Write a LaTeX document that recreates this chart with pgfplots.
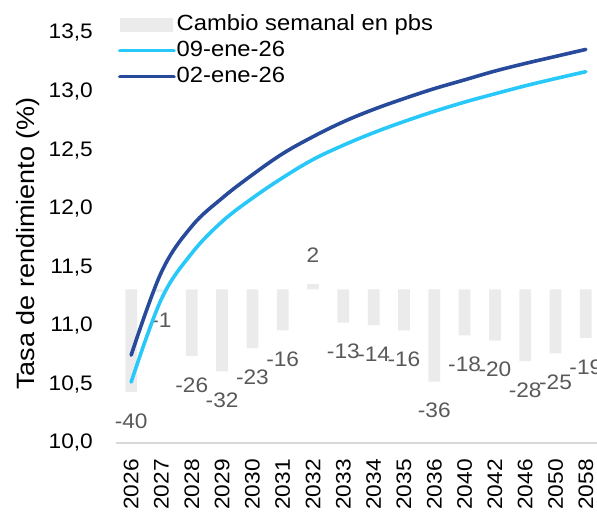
\documentclass[border=0pt]{standalone}
\usepackage{fontspec}
\setmainfont{Liberation Sans}[FakeStretch=1.08]
\usepackage{pgfplots}
\usepackage{pgfplotstable}
\pgfplotsset{compat=1.18}

\definecolor{barfill}{RGB}{235,235,235}
\definecolor{lightline}{RGB}{41,200,250}
\definecolor{darkline}{RGB}{40,74,154}
\definecolor{labelgray}{RGB}{89,89,89}
\definecolor{axisgray}{RGB}{217,217,217}

\newcommand\cf{\fontsize{21}{25}\selectfont}
\newcommand\lf{\fontsize{22}{26}\selectfont}
\newcommand\yf{\fontsize{25}{30}\selectfont}

% weekly change in bps
\pgfplotstableread{
x pbs
0 -40
1 -1
2 -26
3 -32
4 -23
5 -16
6 2
7 -13
8 -14
9 -16
10 -36
11 -18
12 -20
13 -28
14 -25
15 -19
}\bars

% yield curves
\pgfplotstableread{
x ene09 ene02
0 10.52 10.75
1 11.23 11.46
2 11.62 11.85
3 11.89 12.09
4 12.09 12.29
5 12.265 12.47
6 12.42 12.615
7 12.542 12.742
8 12.649 12.848
9 12.744 12.94
10 12.831 13.025
11 12.91 13.10
12 12.981 13.175
13 13.049 13.24
14 13.111 13.30
15 13.17 13.36
}\curves

\begin{document}
\begin{tikzpicture}
% bars behind
\begin{axis}[
  at={(0pt,0pt)}, anchor=south west,
  width=485pt, height=410pt, scale only axis,
  xmin=-0.5, xmax=15.5, ymin=-60, ymax=100,
  hide axis,
  ybar, bar width=11.7pt,
  nodes near coords,
  nodes near coords align={vertical},
  point meta=y,
  /pgf/number format/assume math mode=true,
  every node near coord/.append style={font=\cf, text=labelgray, inner sep=21.5pt},
]
\addplot[draw=none, fill=barfill] table[x=x, y=pbs] {\bars};
\end{axis}

% curves on top
\begin{axis}[
  at={(0pt,0pt)}, anchor=south west,
  width=485pt, height=410pt, scale only axis,
  xmin=-0.5, xmax=15.5, ymin=10, ymax=13.5,
  axis lines=left,
  x axis line style={-, draw=axisgray, line width=1.2pt},
  y axis line style={draw=none},
  major tick length=0pt,
  xtick={0,...,15},
  xticklabels={2026,2027,2028,2029,2030,2031,2032,2033,2034,2035,2036,2040,2042,2046,2050,2058},
  ytick={10,10.5,...,13.5},
  tick label style={font=\cf},
  xticklabel style={rotate=90, anchor=east, inner sep=0pt},
  xticklabel shift=16pt,
  yticklabel style={anchor=east, inner sep=0pt,
    /pgf/number format/.cd, fixed, fixed zerofill, precision=1, use comma},
  yticklabel shift=23pt,
  /pgf/number format/assume math mode=true,
  ylabel={Tasa de rendimiento (\%)},
  every axis y label/.style={at={(rel axis cs:-0.1814,0.4866)}, rotate=90, anchor=center, font=\yf},
  legend style={at={(rel axis cs:0.004,1.0476)}, anchor=north west, draw=none, fill=none,
    font=\lf, inner sep=0pt, row sep=4pt,
    nodes={inner sep=1pt, text depth=4.5pt, text height=15.5pt}},
  legend cell align=left,
  legend image code/.code={\draw[#1] (0pt,0pt) -- (54pt,0pt);},
  clip=false,
]
\addlegendimage{legend image code/.code={\fill[barfill] (0pt,-6.5pt) rectangle (52pt,6.5pt);}}
\addlegendentry{Cambio semanal en pbs}
\addplot[smooth, tension=0.6, lightline, line width=3.6pt, line cap=round]
  table[x=x, y=ene09] {\curves};
\addlegendentry{09-ene-26}
\addplot[smooth, tension=0.6, darkline, line width=3.6pt, line cap=round]
  table[x=x, y=ene02] {\curves};
\addlegendentry{02-ene-26}
\end{axis}
\pgfresetboundingbox
\useasboundingbox (-116pt,-72pt) rectangle (481pt,443pt);
\end{tikzpicture}
\end{document}
